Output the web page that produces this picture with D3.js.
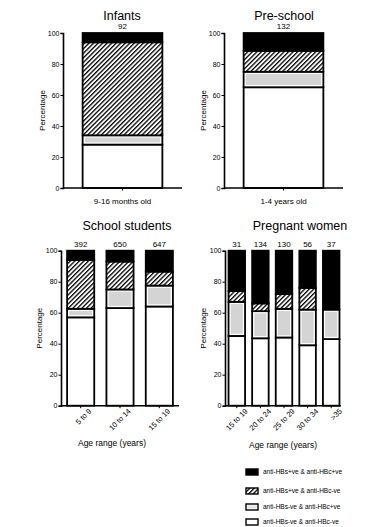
<!DOCTYPE html>
<html>
<head>
<meta charset="utf-8">
<script src="https://cdn.jsdelivr.net/npm/d3@7"></script>
<style>
  body { margin: 0; background: #fff; }
  text { font-family: "Liberation Sans", Arial, sans-serif; fill: #000; }
</style>
</head>
<body>
<svg width="377" height="527"></svg>
<script>
// series order bottom -> top
const keys = ["negNeg", "negPos", "posNeg", "posPos"]
const legendLabels = ["anti-HBs+ve & anti-HBc+ve", "anti-HBs+ve & anti-HBc-ve", "anti-HBs-ve & anti-HBc+ve", "anti-HBs-ve & anti-HBc-ve"]
const yTicks = [0, 20, 40, 60, 80, 100]

const infantCats = ["9-16 months old"]
const infantN = [92]
const infantNegNeg = [28], infantNegPos = [6], infantPosNeg = [60], infantPosPos = [6]

const preCats = ["1-4 years old"]
const preN = [132]
const preNegNeg = [65], preNegPos = [10], prePosNeg = [13.5], prePosPos = [11.5]

const schoolCats = ["5 to 9", "10 to 14", "15 to 19"]
const schoolN = [392, 650, 647]
const schoolNegNeg = [57, 63, 64]
const schoolNegPos = [5.5, 12, 13.5]
const schoolPosNeg = [31.5, 18, 9]
const schoolPosPos = [6, 7, 13.5]

const pregCats = ["15 to 19", "20 to 24", "25 to 29", "30 to 34", ">35"]
const pregN = [31, 134, 130, 56, 37]
const pregNegNeg = [45, 43.5, 44, 39, 43]
const pregNegPos = [22, 17.5, 18.5, 23, 19]
const pregPosNeg = [7, 5, 9.5, 14, 0]
const pregPosPos = [26, 34, 28, 24, 38]

let svg = d3.select("svg")

let defs = svg.append("defs")
let pat = defs.append("pattern").attr("id", "hatch")
    .attr("patternUnits", "userSpaceOnUse")
    .attr("width", 3.2).attr("height", 3.2)
    .attr("patternTransform", "rotate(45)")
pat.append("rect").attr("width", 3.2).attr("height", 3.2).attr("fill", "#fff")
pat.append("line").attr("x1", 0).attr("y1", 0).attr("x2", 0).attr("y2", 3.2)
    .attr("stroke", "#000").attr("stroke-width", 2.6)

function buildRows(cats, a, b, c, d) {
    return cats.map((cat, i) => ({cat: cat, negNeg: a[i], negPos: b[i], posNeg: c[i], posPos: d[i]}))
}

function drawPanel(p) {
    let data = buildRows(p.cats, p.a, p.b, p.c, p.d)
    let series = d3.stack().keys(keys)(data)

    let x = d3.scaleBand().domain(p.cats).range(p.xr)
        .paddingInner(p.pad).paddingOuter(p.pad / 2)
    let y = d3.scaleLinear().domain([0, 100]).range(p.yr)
    let g = svg.append("g")

    // bars
    series.forEach(function (s) {
        let seg = g.append("g").selectAll("g").data(s.filter(d => d[1] - d[0] > 0)).enter().append("g")
        seg.append("rect")
            .attr("x", d => x(d.data.cat))
            .attr("y", d => y(d[1]))
            .attr("width", x.bandwidth())
            .attr("height", d => y(d[0]) - y(d[1]))
            .attr("fill", s.key === "posPos" ? "#000" : s.key === "posNeg" ? "url(#hatch)" : "#fff")
            .attr("stroke", "#000").attr("stroke-width", 1.8)
        if (s.key === "negPos") {
            seg.append("rect")
                .attr("x", d => x(d.data.cat) + 2.2)
                .attr("y", d => y(d[1]) + 2.2)
                .attr("width", x.bandwidth() - 4.4)
                .attr("height", d => Math.max(0, y(d[0]) - y(d[1]) - 4.4))
                .attr("fill", "#d4d4d4")
        }
    })

    // sample sizes
    g.selectAll(".n").data(p.n).enter().append("text")
        .attr("x", (d, i) => x(p.cats[i]) + x.bandwidth() / 2)
        .attr("y", y(100) - 4)
        .attr("text-anchor", "middle")
        .style("font-size", "8px")
        .text(d => d)

    // y axis
    let ya = g.append("g").attr("transform", "translate(" + p.xr[0] + ",0)")
        .call(d3.axisLeft(y).tickValues(yTicks).tickSize(2.5).tickPadding(1))
    ya.select(".domain").attr("stroke-width", 1.6)
    ya.selectAll("text").style("font-size", "7px").attr("font-family", null)

    // x axis
    let xa = g.append("g").attr("transform", "translate(0," + p.yr[0] + ")")
        .call(d3.axisBottom(x).tickSize(2.5).tickSizeOuter(0))
    xa.select(".domain").attr("stroke-width", 1.6).attr("d", "M" + p.xr[0] + ",0H" + p.xEnd)
    xa.selectAll("text").attr("font-family", null)
    if (p.rotate) {
        xa.selectAll("text").style("font-size", "7.5px")
            .attr("text-anchor", "end")
            .attr("transform", "rotate(-45)")
            .attr("dx", "0.5em").attr("dy", "0.9em")
    } else {
        xa.selectAll("text").style("font-size", "8px").attr("dy", "1.3em")
    }

    // titles
    svg.append("text").attr("x", p.title[0]).attr("y", p.title[1])
        .attr("text-anchor", "middle").style("font-size", "12.5px").text(p.name)
    svg.append("text")
        .attr("transform", "translate(" + p.ylab + "," + ((p.yr[0] + p.yr[1]) / 2) + ") rotate(-90)")
        .attr("text-anchor", "middle").style("font-size", "8px").text("Percentage")
    if (p.xlab) {
        svg.append("text").attr("x", p.xlab[0]).attr("y", p.xlab[1])
            .attr("text-anchor", "middle").style("font-size", "8.5px").text("Age range (years)")
    }
}

drawPanel({name: "Infants", cats: infantCats, n: infantN,
    a: infantNegNeg, b: infantNegPos, c: infantPosNeg, d: infantPosPos,
    xr: [63, 182], xEnd: 182, yr: [188, 33], pad: 0.33, title: [122, 20], ylab: 45})

drawPanel({name: "Pre-school", cats: preCats, n: preN,
    a: preNegNeg, b: preNegPos, c: prePosNeg, d: prePosPos,
    xr: [224, 343], xEnd: 343, yr: [188, 33], pad: 0.33, title: [284, 20], ylab: 206})

drawPanel({name: "School students", cats: schoolCats, n: schoolN,
    a: schoolNegNeg, b: schoolNegPos, c: schoolPosNeg, d: schoolPosPos,
    xr: [61, 179], xEnd: 179, yr: [405.7, 250.7], pad: 0.31, title: [127, 230], ylab: 42,
    rotate: true, xlab: [112, 446]})

drawPanel({name: "Pregnant women", cats: pregCats, n: pregN,
    a: pregNegNeg, b: pregNegPos, c: pregPosNeg, d: pregPosPos,
    xr: [225, 343], xEnd: 341, yr: [405.7, 250.7], pad: 0.3, title: [300, 230], ylab: 206,
    rotate: true, xlab: [283, 448]})

// legend
const legendY = [472, 491, 507, 522]
const legendFill = ["#000", "url(#hatch)", "#fff", "#fff"]
let lg = svg.append("g").selectAll("g").data(legendLabels).enter().append("g")
    .attr("transform", (d, i) => "translate(246," + legendY[i] + ")")
lg.append("rect").attr("x", 0).attr("y", -3).attr("width", 12).attr("height", 6)
    .attr("fill", (d, i) => legendFill[i]).attr("stroke", "#000").attr("stroke-width", 1.4)
lg.filter((d, i) => i === 2).append("rect").attr("x", 1.5).attr("y", -1.5)
    .attr("width", 9).attr("height", 3).attr("fill", "#e4e4e4")
lg.append("text").attr("x", 17).attr("y", 0).attr("dy", "0.35em")
    .style("font-size", "6.5px").text(d => d)
</script>
</body>
</html>
